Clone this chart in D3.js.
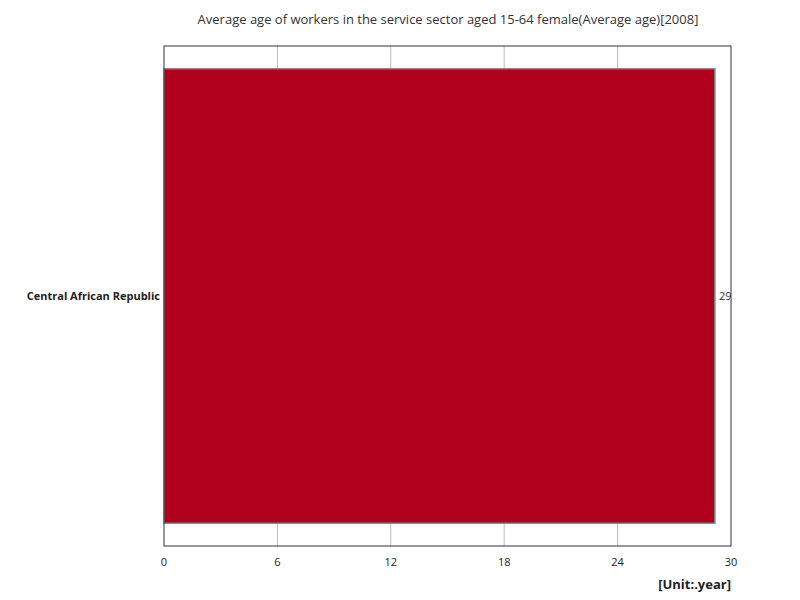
<!DOCTYPE html>
<html><head><meta charset="utf-8">
<script src="https://cdn.jsdelivr.net/npm/d3@7"></script>
<style>body{margin:0;background:#fff}text{font-family:"Open Sans",sans-serif}</style>
</head><body><svg id="c" width="800" height="600"></svg>
<script>
const categories=["Central African Republic"];
const values=[29.15];
const ticks=[0,6,12,18,24,30];
const svg=d3.select("#c");
const m={l:164,r:731,t:46,b:546};
const x=d3.scaleLinear().domain([0,30]).range([m.l,m.r]);
const y=d3.scaleBand().domain(categories).range([m.t,m.b]).paddingInner(0).paddingOuter(0.05);
svg.append("text").attr("x",448).attr("y",24).attr("text-anchor","middle").attr("font-size",13).attr("fill","#333")
 .text("Average age of workers in the service sector aged 15-64 female(Average age)[2008]");
svg.selectAll(".g").data(ticks.slice(1,-1)).join("line").attr("x1",d=>x(d)).attr("x2",d=>x(d)).attr("y1",m.t).attr("y2",m.b).attr("stroke","#bbb");
svg.selectAll(".bar").data(values).join("rect").attr("x",x(0)).attr("y",(d,i)=>y(categories[i]))
 .attr("width",d=>x(d)-x(0)).attr("height",y.bandwidth()).attr("fill","#b0001e").attr("stroke","#888").attr("stroke-width",1.5);
const clip=svg.append("clipPath").attr("id","cp").append("rect").attr("x",m.l).attr("y",m.t).attr("width",m.r-m.l).attr("height",m.b-m.t);
svg.selectAll(".vl").data(values).join("text").attr("clip-path","url(#cp)").attr("x",d=>x(d)+4).attr("y",(d,i)=>y(categories[i])+y.bandwidth()/2+4)
 .attr("font-size",11).attr("fill","#333").text(d=>Math.floor(d));
svg.append("rect").attr("x",m.l).attr("y",m.t).attr("width",m.r-m.l).attr("height",m.b-m.t).attr("fill","none").attr("stroke","#333");
svg.selectAll(".cl").data(categories).join("text").attr("x",m.l-4).attr("y",d=>y(d)+y.bandwidth()/2+4).attr("text-anchor","end")
 .attr("font-size",11).attr("font-weight","bold").attr("fill","#222").text(d=>d);
svg.selectAll(".xt").data(ticks).join("text").attr("x",d=>x(d)).attr("y",566).attr("text-anchor","middle").attr("font-size",11).attr("fill","#222").text(d=>d);
svg.append("text").attr("x",731).attr("y",589).attr("text-anchor","end").attr("font-size",13).attr("font-weight","bold").attr("fill","#222").text("[Unit:.year]");
</script></body></html>
